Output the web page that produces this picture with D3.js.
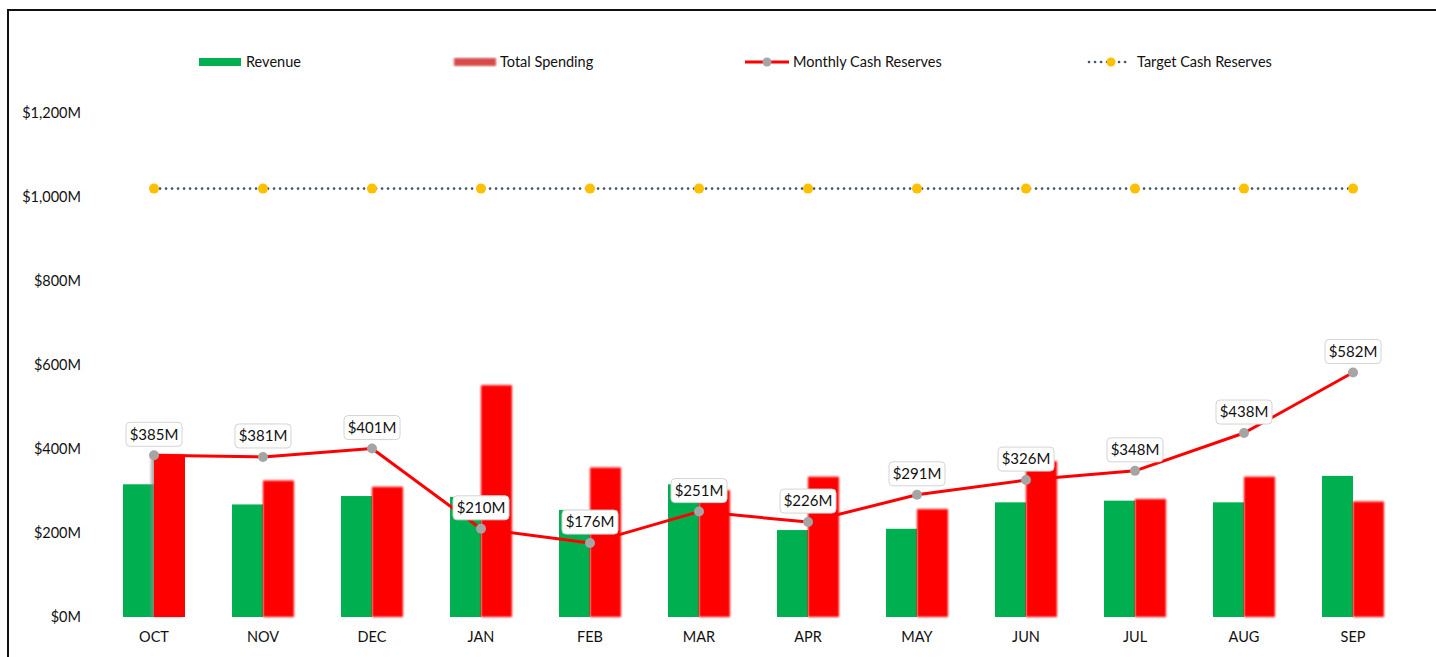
<!DOCTYPE html>
<html>
<head>
<meta charset="utf-8">
<script src="https://cdn.jsdelivr.net/npm/d3@7"></script>
<style>
  body { margin: 0; background: #fff; }
  svg text { font-family: Lato, "Open Sans", sans-serif; fill: #111; }
</style>
</head>
<body>
<div id="chart"></div>
<script>
const months = ["OCT", "NOV", "DEC", "JAN", "FEB", "MAR", "APR", "MAY", "JUN", "JUL", "AUG", "SEP"];
const revenue = [316, 268, 288, 286, 255, 316, 207, 210, 273, 277, 273, 336];
const spending = [387, 325, 310, 552, 356, 302, 334, 257, 371, 281, 334, 275];
const cashReserves = [385, 381, 401, 210, 176, 251, 226, 291, 326, 348, 438, 582];
const targetReserves = [1020, 1020, 1020, 1020, 1020, 1020, 1020, 1020, 1020, 1020, 1020, 1020];
const yTicks = [0, 200, 400, 600, 800, 1000, 1200];

const W = 1436, H = 657;

const svg = d3.select("#chart")
    .append("svg")
    .attr("width", W)
    .attr("height", H);

const defs = svg.append("defs");
defs.append("filter").attr("id", "soft")
    .attr("x", "-20%").attr("y", "-5%").attr("width", "140%").attr("height", "110%")
    .append("feGaussianBlur").attr("stdDeviation", 1.3);
defs.append("filter").attr("id", "shadowLeft")
    .attr("x", "-30%").attr("y", "-5%").attr("width", "160%").attr("height", "110%")
    .append("feDropShadow")
    .attr("dx", -3).attr("dy", 0).attr("stdDeviation", 1.5)
    .attr("flood-color", "#888").attr("flood-opacity", 0.7);

// frame
svg.append("rect")
    .attr("x", 8).attr("y", 10)
    .attr("width", W + 10).attr("height", H + 10)
    .attr("fill", "none")
    .attr("stroke", "#111")
    .attr("stroke-width", 2);

const x = d3.scaleBand()
    .domain(months)
    .range([99.5, 1407.5])
    .padding(0);

const xSub = d3.scaleBand()
    .domain(["rev", "spend"])
    .range([x.bandwidth() / 2 - 31, x.bandwidth() / 2 + 31]);

const y = d3.scaleLinear()
    .domain([0, 1200])
    .range([617, 113]);

const fmt = d => "$" + d3.format(",")(d) + "M";

// y axis labels
svg.append("g")
    .selectAll("text")
    .data(yTicks)
    .join("text")
    .attr("x", 81)
    .attr("y", d => y(d))
    .attr("dy", "0.35em")
    .attr("text-anchor", "end")
    .style("font-size", "14.5px")
    .text(fmt);

// x axis labels
svg.append("g")
    .selectAll("text")
    .data(months)
    .join("text")
    .attr("x", d => x(d) + x.bandwidth() / 2)
    .attr("y", 637)
    .attr("dy", "0.35em")
    .attr("text-anchor", "middle")
    .style("font-size", "14.5px")
    .text(d => d);

// bars
svg.append("g")
    .selectAll("rect")
    .data(months)
    .join("rect")
    .attr("x", d => x(d) + xSub("rev"))
    .attr("y", (d, i) => y(revenue[i]))
    .attr("width", xSub.bandwidth())
    .attr("height", (d, i) => y(0) - y(revenue[i]))
    .attr("fill", "#00B050");

svg.append("g")
    .selectAll("rect")
    .data(months)
    .join("rect")
    .attr("x", d => x(d) + xSub("spend"))
    .attr("y", (d, i) => y(spending[i]))
    .attr("width", xSub.bandwidth())
    .attr("height", (d, i) => y(0) - y(spending[i]))
    .attr("fill", "#FF0000")
    .attr("filter", (d, i) => i === 0 ? "url(#shadowLeft)" : "url(#soft)");

const cx = d => x(d) + x.bandwidth() / 2;

// target line (round dots)
svg.append("path")
    .datum(months)
    .attr("fill", "none")
    .attr("stroke", "#44546A")
    .attr("stroke-width", 2.6)
    .attr("stroke-dasharray", "0.1,5.9")
    .attr("stroke-linecap", "round")
    .attr("d", d3.line().x(cx).y((d, i) => y(targetReserves[i])));

svg.append("g")
    .selectAll("circle")
    .data(months)
    .join("circle")
    .attr("cx", cx)
    .attr("cy", (d, i) => y(targetReserves[i]))
    .attr("r", 5)
    .attr("fill", "#FFC000");

// cash reserves line
svg.append("path")
    .datum(months)
    .attr("fill", "none")
    .attr("stroke", "#FF0000")
    .attr("stroke-width", 3)
    .attr("stroke-linejoin", "round")
    .attr("d", d3.line().x(cx).y((d, i) => y(cashReserves[i])));

svg.append("g")
    .selectAll("circle")
    .data(months)
    .join("circle")
    .attr("cx", cx)
    .attr("cy", (d, i) => y(cashReserves[i]))
    .attr("r", 5)
    .attr("fill", "#A5A5A5");

// data labels
const labels = svg.append("g")
    .selectAll("g")
    .data(months)
    .join("g")
    .attr("transform", (d, i) => `translate(${cx(d)},${y(cashReserves[i]) - 21})`);

labels.append("rect")
    .attr("x", -28).attr("y", -12)
    .attr("width", 56).attr("height", 24)
    .attr("rx", 4)
    .attr("fill", "#fff")
    .attr("stroke", "#d4d4d4")
    .attr("stroke-width", 1);

labels.append("text")
    .attr("text-anchor", "middle")
    .attr("dy", "0.35em")
    .style("font-size", "15px")
    .text((d, i) => fmt(cashReserves[i]));

// legend
const legend = svg.append("g");
const ly = 62;

legend.append("rect").attr("x", 199).attr("y", ly - 4).attr("width", 42).attr("height", 8).attr("fill", "#00B050");
legend.append("text").attr("x", 246).attr("y", ly).attr("dy", "0.35em").style("font-size", "14.5px").text("Revenue");

legend.append("rect").attr("x", 454).attr("y", ly - 4).attr("width", 42).attr("height", 8)
    .attr("fill", "#D84848").attr("filter", "url(#soft)");
legend.append("text").attr("x", 500).attr("y", ly).attr("dy", "0.35em").style("font-size", "14.5px").text("Total Spending");

legend.append("line").attr("x1", 745).attr("x2", 789).attr("y1", ly).attr("y2", ly)
    .attr("stroke", "#FF0000").attr("stroke-width", 3);
legend.append("circle").attr("cx", 767).attr("cy", ly).attr("r", 4.5).attr("fill", "#A5A5A5");
legend.append("text").attr("x", 793).attr("y", ly).attr("dy", "0.35em").style("font-size", "14.5px").text("Monthly Cash Reserves");

legend.append("line").attr("x1", 1089).attr("x2", 1131).attr("y1", ly).attr("y2", ly)
    .attr("stroke", "#44546A").attr("stroke-width", 2.6)
    .attr("stroke-dasharray", "0.1,5.9").attr("stroke-linecap", "round");
legend.append("circle").attr("cx", 1111).attr("cy", ly).attr("r", 4.5).attr("fill", "#FFC000");
legend.append("text").attr("x", 1137).attr("y", ly).attr("dy", "0.35em").style("font-size", "14.5px").text("Target Cash Reserves");
</script>
</body>
</html>
